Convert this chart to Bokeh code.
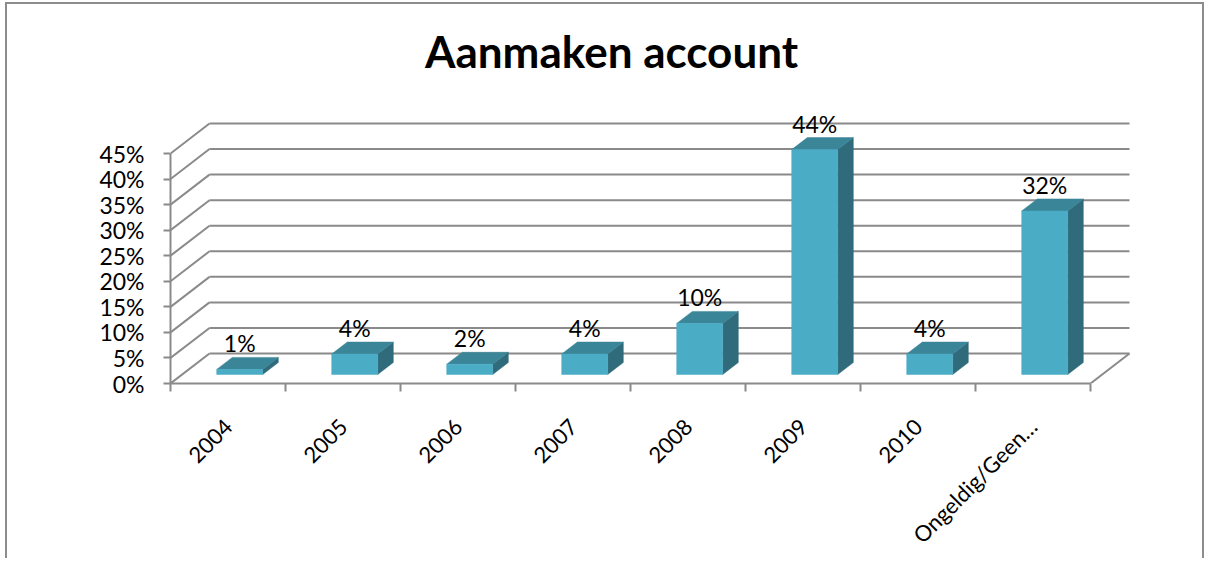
import math
from bokeh.plotting import figure
from bokeh.models import Range1d, FixedTicker, PrintfTickFormatter
from bokeh.core.properties import value
from bokeh.embed import file_html
from bokeh.resources import INLINE

# ---- data ----
categories = ["2004", "2005", "2006", "2007", "2008", "2009", "2010", "Ongeldig/Geen…"]
percentages = [1, 4, 2, 4, 10, 44, 4, 32]
y_ticks = [0, 5, 10, 15, 20, 25, 30, 35, 40, 45]
title_text = "Aanmaken account"

# ---- layout / style ----
FONT = "Lato"
W, H = 1199, 556
ML, MR, MB, MT = 163, 66, 177, 10
frame_w = W - ML - MR
frame_h = H - MT - MB
PX_CAT = 115.0          # pixels per category
PX_PCT = 5.111          # pixels per percent
DX = 39 / PX_CAT        # depth offset in x data units
DY = 30 / PX_PCT        # depth offset in y data units
Z0, Z1 = 0.3, 0.7       # bar depth range (fraction of floor depth)
BAR_LO, BAR_HI = 0.3, 0.7
LABEL_SHIFT = 0.0
GRID = "#8a8a8a"
FRONT, TOP, SIDE = "#4BACC6", "#3A8597", "#306B7B"
TITLE_X = (611 - 170) / PX_CAT
TITLE_Y = (383 - 50) / PX_PCT

n = len(categories)
ymax = max(y_ticks)

p = figure(width=W, height=H, output_backend="svg", toolbar_location=None,
           x_range=Range1d(0, frame_w / PX_CAT), y_range=Range1d(0, frame_h / PX_PCT),
           min_border_left=ML, min_border_right=MR, min_border_bottom=MB, min_border_top=MT,
           styles={"margin-left": "5px", "margin-top": "2px",
                   "border-top": "2px solid #8c8c8c", "border-left": "2px solid #8c8c8c",
                   "border-right": "2px solid #8c8c8c"})
p.title.visible = False
p.outline_line_color = None
p.xgrid.grid_line_color = None
p.ygrid.grid_line_color = None
p.background_fill_color = "white"
p.border_fill_color = "white"

# ---- 3D walls / gridlines ----
p.segment(x0=[DX] * len(y_ticks), y0=[t + DY for t in y_ticks],
          x1=[n + DX] * len(y_ticks), y1=[t + DY for t in y_ticks],
          line_color=GRID, line_width=2)
p.segment(x0=[0] * len(y_ticks), y0=y_ticks,
          x1=[DX] * len(y_ticks), y1=[t + DY for t in y_ticks],
          line_color=GRID, line_width=2)
p.segment(x0=[n], y0=[0], x1=[n + DX], y1=[DY], line_color=GRID, line_width=2)

# ---- bars ----
xl = [i + BAR_LO + Z0 * DX for i in range(n)]
xr = [i + BAR_HI + Z0 * DX for i in range(n)]
dxz = (Z1 - Z0) * DX
dyz = (Z1 - Z0) * DY
yb = Z0 * DY
top_xs = [[a, b, b + dxz, a + dxz] for a, b in zip(xl, xr)]
top_ys = [[v + yb, v + yb, v + yb + dyz, v + yb + dyz] for v in percentages]
side_xs = [[b, b + dxz, b + dxz, b] for b in xr]
side_ys = [[yb, yb + dyz, v + yb + dyz, v + yb] for v in percentages]
p.patches(side_xs, side_ys, fill_color=SIDE, line_color=SIDE, line_width=0.5)
p.patches(top_xs, top_ys, fill_color=TOP, line_color=TOP, line_width=0.5)
p.quad(left=xl, right=xr, bottom=[yb] * n, top=[v + yb for v in percentages],
       fill_color=FRONT, line_color=FRONT, line_width=0.5)

# data labels
p.text(x=[(a + b) / 2 for a, b in zip(xl, xr)], y=[v + Z1 * DY for v in percentages],
       text=[f"{v}%" for v in percentages], text_align="center", text_baseline="alphabetic",
       y_offset=-14, text_font=value(FONT), text_font_size="23px", text_color="black")

# title
p.text(x=[TITLE_X], y=[TITLE_Y], text=[title_text], text_align="center",
       text_baseline="alphabetic", text_font=value(FONT), text_font_style="bold",
       text_font_size="44px", text_color="black")

# ---- axes ----
yax = p.yaxis[0]
yax.ticker = FixedTicker(ticks=y_ticks)
yax.formatter = PrintfTickFormatter(format="%d%%")
yax.bounds = (0, ymax)
yax.axis_line_color = GRID
yax.axis_line_width = 2
yax.major_tick_line_color = GRID
yax.major_tick_line_width = 2
yax.major_tick_out = 7
yax.major_tick_in = 0
yax.minor_tick_line_color = None
yax.major_label_standoff = 19
yax.major_label_text_font = FONT
yax.major_label_text_font_size = "23px"
yax.major_label_text_color = "black"

xax = p.xaxis[0]
label_pos = [i + 0.5 + LABEL_SHIFT for i in range(n)]
xax.ticker = FixedTicker(ticks=label_pos, minor_ticks=list(range(n + 1)))
xax.major_label_overrides = {c: lab for c, lab in zip(label_pos, categories)}
xax.bounds = (0, n)
xax.axis_line_color = GRID
xax.axis_line_width = 2
xax.major_tick_line_color = None
xax.major_tick_out = 0
xax.major_tick_in = 0
xax.minor_tick_line_color = GRID
xax.minor_tick_line_width = 2
xax.minor_tick_out = 8
xax.minor_tick_in = 0
xax.major_label_orientation = math.pi / 4
xax.major_label_standoff = 31
xax.major_label_text_font = FONT
xax.major_label_text_font_size = "22px"
xax.major_label_text_color = "black"

open("out.html", "w").write(file_html(p, INLINE))
